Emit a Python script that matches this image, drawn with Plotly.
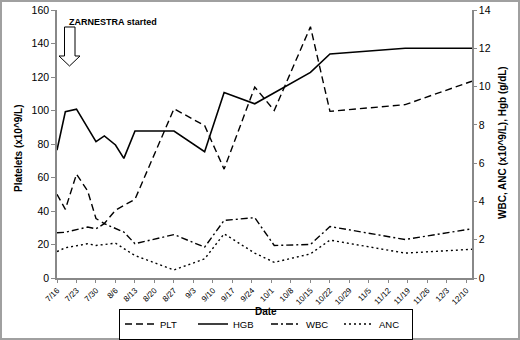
import plotly.graph_objects as go
from datetime import date

YEAR = 2004
dates = ["7/16", "7/19", "7/23", "7/27", "7/30", "8/2", "8/6", "8/9", "8/13", "8/27",
         "9/7", "9/14", "9/25", "10/2", "10/15", "10/22", "11/18", "12/12"]
plt_vals = [50, 41, 62, 52, 35.5, 32.5, 40.5, None, 47, 101,
            91, 65, 114, 100, 150, 99.5, 103.5, 117.5]
hgb_vals = [6.68, 8.69, 8.82, 7.82, 7.12, 7.42, 6.95, 6.25, 7.68, 7.68,
            6.6, 9.69, 9.1, None, 10.74, 11.7, 12.0, 12.0]
wbc_vals = [2.36, 2.39, None, 2.66, 2.57, 2.84, 2.57, 2.4, 1.79, 2.27,
            1.61, 3.01, 3.15, 1.7, 1.75, 2.69, 2.01, 2.57]
anc_vals = [1.38, 1.58, None, 1.79, 1.70, None, 1.82, 1.56, 1.17, 0.42,
            1.0, 2.31, 1.3, 0.82, 1.26, 1.98, 1.30, 1.5]
tick_labels = ["7/16", "7/23", "7/30", "8/6", "8/13", "8/20", "8/27", "9/3", "9/10",
               "9/17", "9/24", "10/1", "10/8", "10/15", "10/22", "10/29", "11/5",
               "11/12", "11/19", "11/26", "12/3", "12/10"]


def to_iso(md):
    m, d = md.split("/")
    return date(YEAR, int(m), int(d)).isoformat()


x = [to_iso(d) for d in dates]
tickvals = [to_iso(t) for t in tick_labels]

FONT = "Liberation Sans, Arial, sans-serif"
fig = go.Figure()
fig.add_trace(go.Scatter(x=x, y=plt_vals, name="PLT", mode="lines", connectgaps=True,
                         line=dict(color="black", width=1.4, dash="7px,4px")))
fig.add_trace(go.Scatter(x=x, y=hgb_vals, name="HGB", mode="lines", connectgaps=True, yaxis="y2",
                         line=dict(color="black", width=1.6)))
fig.add_trace(go.Scatter(x=x, y=wbc_vals, name="WBC", mode="lines", connectgaps=True, yaxis="y2",
                         line=dict(color="black", width=1.4, dash="7px,3px,2px,3px")))
fig.add_trace(go.Scatter(x=x, y=anc_vals, name="ANC", mode="lines", connectgaps=True, yaxis="y2",
                         line=dict(color="black", width=1.4, dash="2px,3px")))

L, R, T, B = 57, 472, 10, 278
W, H = 520, 340


def px_x(p):
    return (p - L) / (R - L)


def px_y(p):
    return (B - p) / (B - T)


# hollow arrow
pts = [(64.5, 27), (75, 27), (75, 56), (80, 56), (69.5, 66), (59, 56), (64.5, 56)]
path = "M " + " L ".join(f"{px_x(a):.4f},{px_y(b):.4f}" for a, b in pts) + " Z"

shapes = [
    dict(type="path", path=path, xref="paper", yref="paper",
         line=dict(color="black", width=1), fillcolor="white"),
    dict(type="rect", xref="paper", yref="paper",
         x0=px_x(1), x1=px_x(519), y0=px_y(339), y1=px_y(1),
         line=dict(color="#a0a0a0", width=2), layer="below"),
]

axis_common = dict(showgrid=False, zeroline=False, showline=True, linecolor="#888",
                   linewidth=1.5, tickcolor="#888", automargin=False)

fig.update_layout(
    width=W, height=H,
    margin=dict(l=L, r=W - R, t=T, b=H - B, autoexpand=False),
    paper_bgcolor="white", plot_bgcolor="white",
    font=dict(family=FONT, color="black", size=10),
    showlegend=True,
    legend=dict(orientation="h", x=px_x(266), xanchor="center", y=px_y(339.5), yanchor="bottom",
                bordercolor="black", borderwidth=1, font=dict(size=9.5),
                entrywidth=28, entrywidthmode="pixels", tracegroupgap=0,
                itemwidth=30),
    xaxis=dict(type="date", range=[to_iso("7/16"), to_iso("12/12")],
               tickvals=tickvals, ticktext=tick_labels, tickangle=-45,
               tickfont=dict(size=8, color="black"),
               ticks="outside", ticklen=3, **axis_common),
    yaxis=dict(range=[0, 160], tickvals=list(range(0, 161, 20)),
               ticks="outside", ticklen=4, tickfont=dict(size=10.5), **axis_common),
    yaxis2=dict(range=[0, 14], tickvals=list(range(0, 15, 2)), overlaying="y", side="right",
                ticks="outside", ticklen=3, tickfont=dict(size=10.5), **axis_common),
    shapes=shapes,
    annotations=[
        dict(text="<b>ZARNESTRA started</b>", xref="paper", yref="paper",
             x=px_x(67), y=px_y(22), xanchor="left", yanchor="middle",
             showarrow=False, font=dict(size=9)),
        dict(text="<b>Platelets (x10^9/L)</b>", xref="paper", yref="paper",
             x=px_x(18), y=px_y(148), xanchor="center", yanchor="middle",
             textangle=-90, showarrow=False, font=dict(size=10)),
        dict(text="<b>WBC, ANC (x10^9/L), Hgb (g/dL)</b>", xref="paper", yref="paper",
             x=px_x(502), y=px_y(143), xanchor="center", yanchor="middle",
             textangle=-90, showarrow=False, font=dict(size=10)),
        dict(text="<b>Date</b>", xref="paper", yref="paper",
             x=px_x(266), y=px_y(311), xanchor="center", yanchor="middle",
             showarrow=False, font=dict(size=10)),
    ],
)

fig.write_html("out.html", config={"displayModeBar": False},
               post_script="document.body.style.margin='0';document.body.style.padding='0';")
